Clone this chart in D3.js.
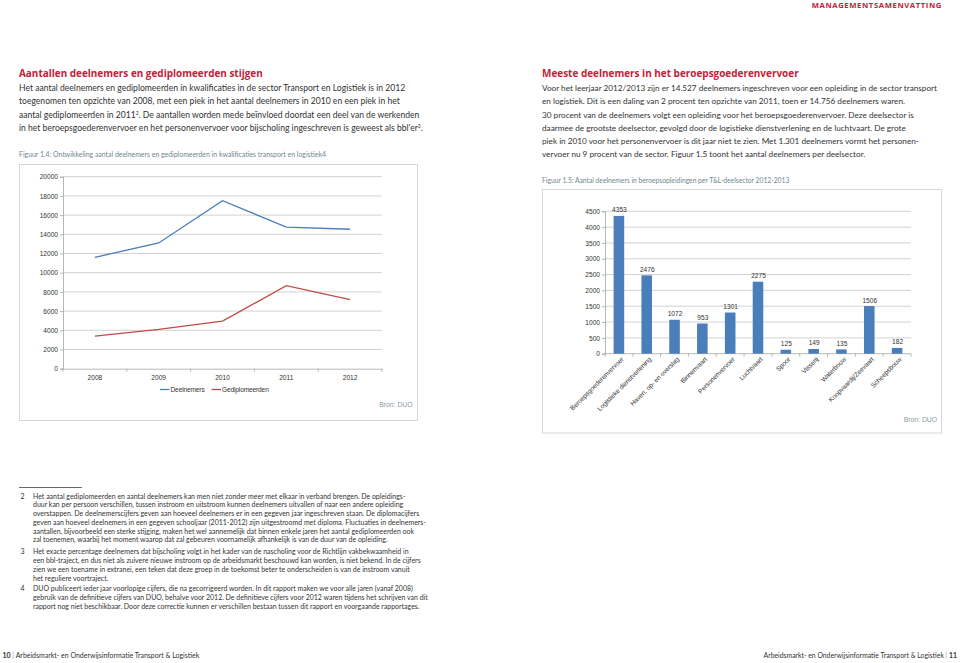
<!DOCTYPE html>
<html><head><meta charset="utf-8">
<script src="https://cdn.jsdelivr.net/npm/d3@7"></script>
<style>body{margin:0;background:#fff} svg{display:block}</style>
</head><body>
<svg id="page" width="960" height="663"></svg>
<script>
// ---------- DATA ----------
const years = ["2008", "2009", "2010", "2011", "2012"];
const deelnemers = [11600, 13100, 17500, 14756, 14527];
const gediplomeerden = [3400, 4100, 4950, 8650, 7200];
const yTicksLeft = [0, 2000, 4000, 6000, 8000, 10000, 12000, 14000, 16000, 18000, 20000];
const seriesNames = ["Deelnemers", "Gediplomeerden"];

const sectors = ["Beroepsgoederenvervoer", "Logistieke dienstverlening", "Haven, op- en overslag",
  "Binnenvaart", "Personenvervoer", "Luchtvaart", "Spoor", "Visserij", "Waterbouw",
  "Koopvaardij/Zeevaart", "Scheepsbouw"];
const sectorValues = [4353, 2476, 1072, 953, 1301, 2275, 125, 149, 135, 1506, 182];
const yTicksRight = [0, 500, 1000, 1500, 2000, 2500, 3000, 3500, 4000, 4500];

const headerText = "MANAGEMENTSAMENVATTING";
const leftHeading = "Aantallen deelnemers en gediplomeerden stijgen";
const leftBody = [
  [["Het aantal deelnemers en gediplomeerden in kwalificaties in de sector Transport en Logistiek is in 2012"]],
  [["toegenomen ten opzichte van 2008, met een piek in het aantal deelnemers in 2010 en een piek in het"]],
  [["aantal gediplomeerden in 2011"], ["2", "sup"], [". De aantallen worden mede beïnvloed doordat een deel van de werkenden"]],
  [["in het beroepsgoederenvervoer en het personenvervoer voor bijscholing ingeschreven is geweest als bbl'er"], ["3", "sup"], ["."]]
];
const leftCaption = "Figuur 1.4: Ontwikkeling aantal deelnemers en gediplomeerden in kwalificaties transport en logistiek4";
const rightHeading = "Meeste deelnemers in het beroepsgoederenvervoer";
const rightBody = [
  [["Voor het leerjaar 2012/2013 zijn er 14.527 deelnemers ingeschreven voor een opleiding in de sector transport"]],
  [["en logistiek. Dit is een daling van 2 procent ten opzichte van 2011, toen er 14.756 deelnemers waren."]],
  [["30 procent van de deelnemers volgt een opleiding voor het beroepsgoederenvervoer. Deze deelsector is"]],
  [["daarmee de grootste deelsector, gevolgd door de logistieke dienstverlening en de luchtvaart. De grote"]],
  [["piek in 2010 voor het personenvervoer is dit jaar niet te zien. Met 1.301 deelnemers vormt het personen-"]],
  [["vervoer nu 9 procent van de sector. Figuur 1.5 toont het aantal deelnemers per deelsector."]]
];
const rightCaption = "Figuur 1.5: Aantal deelnemers in beroepsopleidingen per T&L-deelsector 2012-2013";
const sourceText = "Bron: DUO";
const footnotes = [
  ["2", ["Het aantal gediplomeerden en aantal deelnemers kan men niet zonder meer met elkaar in verband brengen. De opleidings-",
    "duur kan per persoon verschillen, tussen instroom en uitstroom kunnen deelnemers uitvallen of naar een andere opleiding",
    "overstappen. De deelnemerscijfers geven aan hoeveel deelnemers er in een gegeven jaar ingeschreven staan. De diplomacijfers",
    "geven aan hoeveel deelnemers in een gegeven schooljaar (2011-2012) zijn uitgestroomd met diploma. Fluctuaties in deelnemers-",
    "aantallen, bijvoorbeeld een sterke stijging, maken het wel aannemelijk dat binnen enkele jaren het aantal gediplomeerden ook",
    "zal toenemen, waarbij het moment waarop dat zal gebeuren voornamelijk afhankelijk is van de duur van de opleiding."]],
  ["3", ["Het exacte percentage deelnemers dat bijscholing volgt in het kader van de nascholing voor de Richtlijn vakbekwaamheid in",
    "een bbl-traject, en dus niet als zuivere nieuwe instroom op de arbeidsmarkt beschouwd kan worden, is niet bekend. In de cijfers",
    "zien we een toename in extranei, een teken dat deze groep in de toekomst beter te onderscheiden is van de instroom vanuit",
    "het reguliere voortraject."]],
  ["4", ["DUO publiceert ieder jaar voorlopige cijfers, die na gecorrigeerd worden. In dit rapport maken we voor alle jaren (vanaf 2008)",
    "gebruik van de definitieve cijfers van DUO, behalve voor 2012. De definitieve cijfers voor 2012 waren tijdens het schrijven van dit",
    "rapport nog niet beschikbaar. Door deze correctie kunnen er verschillen bestaan tussen dit rapport en voorgaande rapportages."]]
];
const footerLeftNum = "10";
const footerRightNum = "11";
const footerTitle = "Arbeidsmarkt- en Onderwijsinformatie Transport & Logistiek";

// ---------- STYLE ----------
const RED = "#c5203a";
const TEXT = "#333333";
const CAP = "#6f8790";
const BLUE = "#4a7ebb";
const LRED = "#be4b48";
const BODYFONT = "Lato, 'Open Sans', sans-serif";
const HEADFONT = "'Open Sans', Lato, sans-serif";
const CHARTFONT = "'Liberation Sans', Arial, sans-serif";

const svg = d3.select("#page");

function fitTo(sel, node, target) {
  const w = node.getComputedTextLength();
  const fs = parseFloat(sel.attr("font-size"));
  sel.attr("font-size", fs * target / w);
}

// header
const hdr = svg.append("text").attr("x", 942).attr("y", 8.2).attr("text-anchor", "end")
  .attr("font-family", HEADFONT).attr("font-weight", 700).attr("font-size", 7.5).attr("fill", RED)
  .attr("letter-spacing", 0.6).text(headerText);
fitTo(hdr, hdr.node(), 131);

// headings
function heading(x, y, txt, w) {
  const t = svg.append("text").attr("x", x).attr("y", y).attr("font-family", HEADFONT)
    .attr("font-weight", 700).attr("font-size", 11).attr("fill", RED).text(txt);
  fitTo(t, t.node(), w);
}
heading(19, 77.4, leftHeading, 244);
heading(542, 77.4, rightHeading, 257);

function bodyBlock(x, y0, lines, target, lh) {
  const g = svg.append("g").attr("font-family", BODYFONT).attr("font-size", 9).attr("fill", TEXT);
  const texts = [];
  lines.forEach((parts, i) => {
    const t = g.append("text").attr("x", x).attr("y", y0 + i * lh);
    parts.forEach(p => {
      const ts = t.append("tspan").text(p[0]);
      if (p[1] === "sup") ts.attr("font-size", "60%").attr("baseline-shift", "super");
    });
    texts.push(t);
  });
  const w = texts[0].node().getComputedTextLength();
  g.attr("font-size", 9 * target / w);
}
bodyBlock(19, 91.2, leftBody, 387, 13.25);
bodyBlock(542, 91.2, rightBody, 396, 13.25);

function caption(x, y, txt, w) {
  const t = svg.append("text").attr("x", x).attr("y", y).attr("font-family", BODYFONT)
    .attr("font-size", 7).attr("fill", CAP).text(txt);
  fitTo(t, t.node(), w);
}
caption(19, 156.8, leftCaption, 308);
caption(542, 182.5, rightCaption, 248);

// ---------- LEFT CHART ----------
svg.append("rect").attr("x", 19.5).attr("y", 164.5).attr("width", 398).attr("height", 256)
  .attr("fill", "none").attr("stroke", "#d8d8d8").attr("stroke-width", 1);

const xL = d3.scaleBand().domain(years).range([63, 382]);
const yL = d3.scaleLinear().domain([0, 20000]).range([368.7, 176.7]);
const gLc = svg.append("g").attr("font-family", CHARTFONT);

gLc.append("g").selectAll("line").data(yTicksLeft.filter(d => d > 0)).join("line")
  .attr("x1", xL.range()[0]).attr("x2", xL.range()[1]).attr("y1", d => yL(d)).attr("y2", d => yL(d))
  .attr("stroke", "#c6c6c6").attr("stroke-width", 0.8);

const axL = gLc.append("g").attr("transform", `translate(${xL.range()[0]},0)`)
  .call(d3.axisLeft(yL).tickValues(yTicksLeft).tickSize(3).tickPadding(2).tickFormat(d3.format("d")));
axL.selectAll("path,line").attr("stroke", "#a6a6a6").attr("stroke-width", 0.8);
axL.selectAll("text").attr("font-size", 6.6).attr("fill", "#333").attr("font-family", CHARTFONT);

const axBL = gLc.append("g").attr("transform", `translate(0,${yL(0)})`)
  .call(d3.axisBottom(xL).tickSize(0).tickPadding(7));
axBL.select("path").attr("stroke", "#a6a6a6").attr("stroke-width", 0.8);
axBL.selectAll("text").attr("font-size", 6.6).attr("fill", "#333").attr("font-family", CHARTFONT);
const bL = years.map(d => xL(d)).concat([xL.range()[1]]);
gLc.append("g").selectAll("line").data(bL).join("line")
  .attr("x1", d => d).attr("x2", d => d).attr("y1", yL(0)).attr("y2", yL(0) + 3)
  .attr("stroke", "#a6a6a6").attr("stroke-width", 0.8);

const lineGen = d3.line().x((d, i) => xL(years[i]) + xL.bandwidth() / 2).y(d => yL(d));
gLc.append("path").attr("d", lineGen(deelnemers)).attr("fill", "none").attr("stroke", BLUE).attr("stroke-width", 1.3);
gLc.append("path").attr("d", lineGen(gediplomeerden)).attr("fill", "none").attr("stroke", LRED).attr("stroke-width", 1.3);

// legend
const legItems = [{ name: seriesNames[0], c: BLUE, x: 160 }, { name: seriesNames[1], c: LRED, x: 211.5 }];
const leg = gLc.append("g");
legItems.forEach(it => {
  leg.append("line").attr("x1", it.x).attr("x2", it.x + 9.5).attr("y1", 389.5).attr("y2", 389.5)
    .attr("stroke", it.c).attr("stroke-width", 1.3);
  leg.append("text").attr("x", it.x + 10.5).attr("y", 391.8).attr("font-size", 6.6).attr("fill", "#333")
    .attr("letter-spacing", -0.15).text(it.name);
});
gLc.append("text").attr("x", 412.5).attr("y", 407.3).attr("text-anchor", "end")
  .attr("font-size", 6.8).attr("fill", "#8a9ba1").text(sourceText);

// ---------- RIGHT CHART ----------
svg.append("rect").attr("x", 542.5).attr("y", 189.5).attr("width", 399).attr("height", 243.5)
  .attr("fill", "none").attr("stroke", "#d8d8d8").attr("stroke-width", 1);

const xR = d3.scaleBand().domain(sectors).range([605, 911]).paddingInner(0.62).paddingOuter(0.31);
const yR = d3.scaleLinear().domain([0, 4500]).range([353.7, 211.3]);
const gRc = svg.append("g").attr("font-family", CHARTFONT);

gRc.append("g").selectAll("line").data(yTicksRight.filter(d => d > 0)).join("line")
  .attr("x1", 605).attr("x2", 911).attr("y1", d => yR(d)).attr("y2", d => yR(d))
  .attr("stroke", "#c6c6c6").attr("stroke-width", 0.8);

const axR = gRc.append("g").attr("transform", "translate(605,0)")
  .call(d3.axisLeft(yR).tickValues(yTicksRight).tickSize(3).tickPadding(2).tickFormat(d3.format("d")));
axR.selectAll("path,line").attr("stroke", "#a6a6a6").attr("stroke-width", 0.8);
axR.selectAll("text").attr("font-size", 6.6).attr("fill", "#333").attr("font-family", CHARTFONT);

gRc.append("line").attr("x1", 605).attr("x2", 911).attr("y1", yR(0)).attr("y2", yR(0))
  .attr("stroke", "#a6a6a6").attr("stroke-width", 0.8);
const stepR = xR.step();
const bR = sectors.map((d, i) => 605 + i * stepR).concat([911]);
gRc.append("g").selectAll("line").data(bR).join("line")
  .attr("x1", d => d).attr("x2", d => d).attr("y1", yR(0)).attr("y2", yR(0) + 3)
  .attr("stroke", "#a6a6a6").attr("stroke-width", 0.8);

gRc.append("g").selectAll("rect").data(sectorValues).join("rect")
  .attr("x", (d, i) => xR(sectors[i])).attr("width", xR.bandwidth())
  .attr("y", d => yR(d)).attr("height", d => yR(0) - yR(d))
  .attr("fill", BLUE);

gRc.append("g").selectAll("text").data(sectorValues).join("text")
  .attr("x", (d, i) => xR(sectors[i]) + xR.bandwidth() / 2 + 0.5).attr("y", d => yR(d) - 3.5)
  .attr("text-anchor", "middle").attr("font-size", 6.6).attr("fill", "#333").text(d => d);

gRc.append("g").selectAll("text").data(sectors).join("text")
  .attr("transform", d => `translate(${xR(d) + xR.bandwidth() / 2 + 5},${yR(0) + 6}) rotate(-45)`)
  .attr("text-anchor", "end").attr("font-size", 6.6).attr("fill", "#333")
  .attr("letter-spacing", -0.1).text(d => d);

gRc.append("text").attr("x", 937).attr("y", 421.5).attr("text-anchor", "end")
  .attr("font-size", 6.8).attr("fill", "#8a9ba1").text(sourceText);

// ---------- FOOTNOTES ----------
svg.append("line").attr("x1", 19).attr("x2", 82).attr("y1", 487.5).attr("y2", 487.5)
  .attr("stroke", "#444").attr("stroke-width", 0.8);
const fnG = svg.append("g").attr("font-family", BODYFONT).attr("font-size", 7).attr("fill", TEXT);
const fnStarts = [498.5, 554.3, 591.3];
const fnLH = 8.75;
let firstFn = null;
footnotes.forEach((fn, k) => {
  fnG.append("text").attr("x", 20.5).attr("y", fnStarts[k]).text(fn[0]);
  fn[1].forEach((ln, i) => {
    const t = fnG.append("text").attr("x", 33).attr("y", fnStarts[k] + i * fnLH).text(ln);
    if (!firstFn) firstFn = t;
  });
});
fnG.attr("font-size", 7 * 373 / firstFn.node().getComputedTextLength());

// ---------- FOOTER ----------
const fl = svg.append("text").attr("x", 2.5).attr("y", 658.3).attr("font-family", BODYFONT)
  .attr("font-size", 7).attr("fill", TEXT);
fl.append("tspan").attr("font-weight", 700).text(footerLeftNum);
fl.append("tspan").attr("fill", "#999").text("  |  ");
fl.append("tspan").text(footerTitle);
fitTo(fl, fl.node(), 197);
const fr = svg.append("text").attr("x", 957).attr("y", 658.3).attr("text-anchor", "end")
  .attr("font-family", BODYFONT).attr("font-size", 7).attr("fill", TEXT);
fr.append("tspan").text(footerTitle);
fr.append("tspan").attr("fill", "#999").text("  |  ");
fr.append("tspan").attr("font-weight", 700).text(footerRightNum);
fitTo(fr, fr.node(), 194);
</script>
</body></html>
